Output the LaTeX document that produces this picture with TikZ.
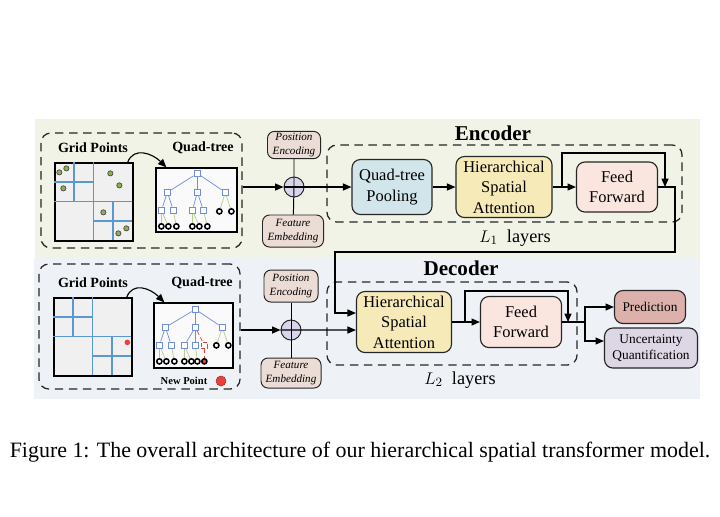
\documentclass[tikz,border=0pt]{standalone}
\usepackage{fontspec}
\setmainfont{Liberation Serif}
\usetikzlibrary{arrows.meta,positioning,calc}

\definecolor{encbg}{HTML}{F0F3E5}
\definecolor{decbg}{HTML}{EEF2F7}
\definecolor{poolcol}{HTML}{D2E5EA}
\definecolor{attncol}{HTML}{F6EAB9}
\definecolor{ffcol}{HTML}{FAE6DF}
\definecolor{predcol}{HTML}{DDB1AB}
\definecolor{uqcol}{HTML}{DCD6E5}
\definecolor{tagcol}{HTML}{ECDCD6}
\definecolor{pluscol}{HTML}{D8D4EA}
\definecolor{gridblue}{HTML}{5B97D2}
\definecolor{treeblue}{HTML}{6F8FDA}
\definecolor{leafgreen}{HTML}{B7CC8C}
\definecolor{ptgreen}{HTML}{8DB04A}
\definecolor{newred}{HTML}{E8413B}

\begin{document}
\begin{tikzpicture}[
  x=0.025cm, y=-0.025cm,
  box/.style={rectangle, rounded corners=6pt, draw=black!85, line width=0.8pt, align=center, font=\fontsize{11.7}{14.5}\selectfont, inner sep=1pt},
  tag/.style={rectangle, rounded corners=5pt, draw=black!85, line width=0.7pt, fill=tagcol, align=center, font=\fontsize{7.9}{10.5}\selectfont\itshape, inner sep=1pt},
  outbox/.style={box, font=\fontsize{9.5}{11}\selectfont},
  dbox/.style={draw=black!85, dash pattern=on 6pt off 4pt, line width=0.9pt, rounded corners=7pt, minimum width=5.025cm},
  plus/.style={circle, draw=black!85, line width=0.7pt, fill=pluscol, minimum size=0.5cm, inner sep=0},
  frame/.style={rectangle, draw=black, line width=0.9pt, inner sep=0},
  lbl/.style={font=\fontsize{10}{12}\selectfont\bfseries},
  head/.style={font=\fontsize{15}{18}\selectfont\bfseries},
  qn/.style={rectangle, draw=treeblue, fill=white, line width=0.5pt, minimum size=0.17cm, inner sep=0},
  lf/.style={circle, draw=black, fill=white, line width=1.1pt, minimum size=0.13cm, inner sep=0},
  tb/.style={draw=treeblue, line width=0.5pt},
  tg/.style={draw=leafgreen, line width=0.5pt},
  tr/.style={draw=newred, line width=0.5pt, densely dashed},
  arr/.style={-{Triangle[length=6pt,width=5pt]}, line width=0.8pt},
]
  \useasboundingbox (0,0) rectangle (720,516);

  % backgrounds
  \fill[encbg] (35,119) rectangle (700,258);
  \fill[decbg] (34,258) rectangle (700,399);

  % ---------------- encoder ----------------
  \node[dbox, minimum height=2.875cm] (encin) at (141.5,190.5) {};
  \node[frame, fill=black!6, minimum size=1.95cm] (g1) at (94,202) {};
  \node[frame, fill=black!2, minimum width=2.025cm, minimum height=1.6cm] (q1) at (196.5,200) {};
  \node[lbl] (gl1) at (93,148) {Grid Points};
  \node[lbl] (ql1) at (203,148) {Quad-tree};

  \begin{scope}[shift={(g1.north west)}]
    \draw[gridblue, line width=1pt] (39,0) -- (39,78) (0,39) -- (78,39)
      (19.5,0) -- (19.5,39) (0,19.5) -- (39,19.5)
      (58.5,39) -- (58.5,78) (39,58.5) -- (78,58.5);
    \foreach \px/\py in {5/10, 12/6, 9/26, 56/11, 65/23, 49/50, 64/71, 72/66}
      \filldraw[fill=ptgreen, draw=black!70, line width=0.5pt] (\px,\py) circle (2.6);
  \end{scope}

  \begin{scope}[shift={(q1.north west)}]
    \node[qn] (ea) at (42,6) {};
    \node[qn] (eb1) at (12,25) {};
    \node[qn] (eb2) at (42,25) {};
    \node[qn] (eb3) at (70,25) {};
    \node[qn] (ec1) at (6,43) {};
    \node[qn] (ec2) at (18,43) {};
    \node[qn] (ec3) at (37,43) {};
    \node[qn] (ec4) at (48,43) {};
    \node[lf] (ek1) at (64,44) {};
    \node[lf] (ek2) at (76,44) {};
    \foreach \i/\lx in {1/6, 2/13, 3/21, 4/37, 5/44, 6/52}
      \node[lf] (el\i) at (\lx,59) {};
  \end{scope}
  \foreach \a/\b in {ea/eb1, ea/eb2, ea/eb3, eb1/ec1, eb1/ec2, eb2/ec3, eb2/ec4}
    \draw[tb] (\a) -- (\b);
  \foreach \a/\b in {eb3/ek1, eb3/ek2, ec1/el1, ec1/el2, ec2/el3, ec3/el4, ec3/el5, ec4/el6}
    \draw[tg] (\a) -- (\b);

  \draw[arr] ([xshift=-0.15cm]g1.north east) .. controls +(6,-16) and +(-14,-14) .. ([xshift=0.275cm]q1.north west);

  \node[plus] (plus1) at (294,187) {};
  \node[tag, minimum width=1.325cm, minimum height=0.65cm] (pe1) at (294,145) {Position\\Encoding};
  \node[tag, minimum width=1.525cm, minimum height=0.8cm] (fe1) at (293,231) {Feature\\Embedding};
  \draw[line width=0.7pt] (pe1) -- (plus1.center) -- (fe1);

  \node[dbox, minimum width=8.875cm, minimum height=1.925cm] (encl) at (504.5,183.5) {};
  \node[box, fill=poolcol, minimum width=2cm, minimum height=1.375cm] (qtp) at (392,187) {Quad-tree\\Pooling};
  \node[box, fill=attncol, minimum width=2.4cm, minimum height=1.525cm] (hsa1) at (504,187) {Hierarchical\\Spatial\\Attention};
  \node[box, fill=ffcol, minimum width=2.025cm, minimum height=1.25cm] (ff1) at (617,187) {Feed\\Forward};
  \node[head] (enc) at (493,133) {Encoder};
  \node[font=\fontsize{13}{15}\selectfont] (l1) at (515,238) {$L_1$~ layers};

  \draw[arr] (encin.east |- plus1.west) -- (plus1.west);
  \draw[arr] (plus1.west) -- (qtp);
  \draw[arr] (qtp) -- (hsa1);
  \draw[arr] (hsa1) -- (ff1);
  \coordinate (r1) at (562,187);
  \coordinate (j1) at (665,187);
  \draw[arr] (r1) -- ++(0,-34) -| (j1);

  % ---------------- decoder ----------------
  \node[dbox, minimum height=3.125cm] (decin) at (139.5,326.5) {};
  \node[frame, fill=black!6, minimum size=1.95cm] (g2) at (93,337) {};
  \node[frame, fill=black!2, minimum width=1.975cm, minimum height=1.625cm] (q2) at (193.5,335.5) {};
  \node[lbl] (gl2) at (93,283) {Grid Points};
  \node[lbl] (ql2) at (202,283) {Quad-tree};
  \node[font=\fontsize{7.5}{9}\selectfont\bfseries] (np) at (184,381) {New Point};
  \filldraw[fill=newred, draw=newred!70!black, line width=0.4pt] (221,381) circle (5);

  \begin{scope}[shift={(g2.north west)}]
    \draw[gridblue, line width=1pt] (39,0) -- (39,78) (0,39) -- (78,39)
      (19.5,0) -- (19.5,39) (0,19.5) -- (39,19.5)
      (58.5,39) -- (58.5,78) (39,58.5) -- (78,58.5);
    \fill[newred] (74,45) circle (2.8);
  \end{scope}

  \begin{scope}[shift={(q2.north west)}]
    \node[qn] (da) at (42,7) {};
    \node[qn] (db1) at (12,25) {};
    \node[qn] (db2) at (42,25) {};
    \node[qn] (db3) at (69,25) {};
    \node[qn] (dc1) at (6,43) {};
    \node[qn] (dc2) at (18,43) {};
    \node[qn] (dc3) at (31,43) {};
    \node[qn] (dc4) at (42,43) {};
    \node[qn, draw=newred, densely dashed] (dc5) at (51,43) {};
    \node[lf] (dk1) at (63,43) {};
    \node[lf] (dk2) at (75,43) {};
    \foreach \i/\lx in {1/6, 2/13, 3/21, 4/31, 5/38, 6/44}
      \node[lf] (dl\i) at (\lx,59) {};
    \node[lf, fill=newred] (dl7) at (51,59) {};
  \end{scope}
  \foreach \a/\b in {da/db1, da/db2, da/db3, db1/dc1, db1/dc2, db2/dc3, db2/dc4}
    \draw[tb] (\a) -- (\b);
  \foreach \a/\b in {db3/dk1, db3/dk2, dc1/dl1, dc1/dl2, dc2/dl3, dc3/dl4, dc3/dl5, dc4/dl6}
    \draw[tg] (\a) -- (\b);
  \draw[tr] (db2) -- (dc5);
  \draw[tr] (dc5) -- (dl7);

  \draw[arr] ([xshift=-0.15cm]g2.north east) .. controls +(6,-16) and +(-14,-14) .. ([xshift=0.275cm]q2.north west);

  \node[plus] (plus2) at (291,330) {};
  \node[tag, minimum width=1.35cm, minimum height=0.8cm] (pe2) at (291,286) {Position\\Encoding};
  \node[tag, minimum width=1.5cm, minimum height=0.75cm] (fe2) at (291,373) {Feature\\Embedding};
  \draw[line width=0.7pt] (pe2) -- (fe2);

  \node[dbox, minimum width=6.25cm, minimum height=2.075cm] (decl) at (452,323.5) {};
  \node[box, fill=attncol, minimum width=2.375cm, minimum height=1.525cm] (hsa2) at (404,322) {Hierarchical\\Spatial\\Attention};
  \node[box, fill=ffcol, minimum width=2.025cm, minimum height=1.275cm] (ff2) at (521,322) {Feed\\Forward};
  \node[head] (dec) at (461,268) {Decoder};
  \node[font=\fontsize{13}{15}\selectfont] (l2) at (460,380) {$L_2$~ layers};
  \node[outbox, fill=predcol, minimum width=1.775cm, minimum height=0.825cm] (pred) at (650,307) {Prediction};
  \node[outbox, fill=uqcol, minimum width=2.325cm, minimum height=1cm] (uq) at (651,348) {Uncertainty\\Quantification};

  % encoder output feeds the decoder attention
  \coordinate (t1) at (675,252);
  \coordinate (t2) at (335,252);
  \draw[arr] (ff1.east) -| (t1) -- (t2) |- ([yshift=0.225cm]hsa2.west);

  \draw[arr] (decin.east |- plus2.west) -- (plus2.west);
  \draw[arr] (plus2.west) -- ([yshift=-0.2cm]hsa2.west);
  \draw[arr] (hsa2) -- (ff2);
  \coordinate (r2) at (465,322);
  \coordinate (j2) at (568,322);
  \draw[arr] (r2) -- ++(0,-31) -| (j2);
  \coordinate (o2) at (585,322);
  \draw[line width=0.8pt] (ff2.east) -- (o2);
  \draw[arr] (o2) |- (pred.west);
  \draw[arr] (o2) |- ([yshift=0.175cm]uq.west);

  \node[font=\fontsize{15.6}{18}\selectfont] (cap) at (360,452) {Figure 1: The overall architecture of our hierarchical spatial transformer model.};
\end{tikzpicture}
\end{document}
